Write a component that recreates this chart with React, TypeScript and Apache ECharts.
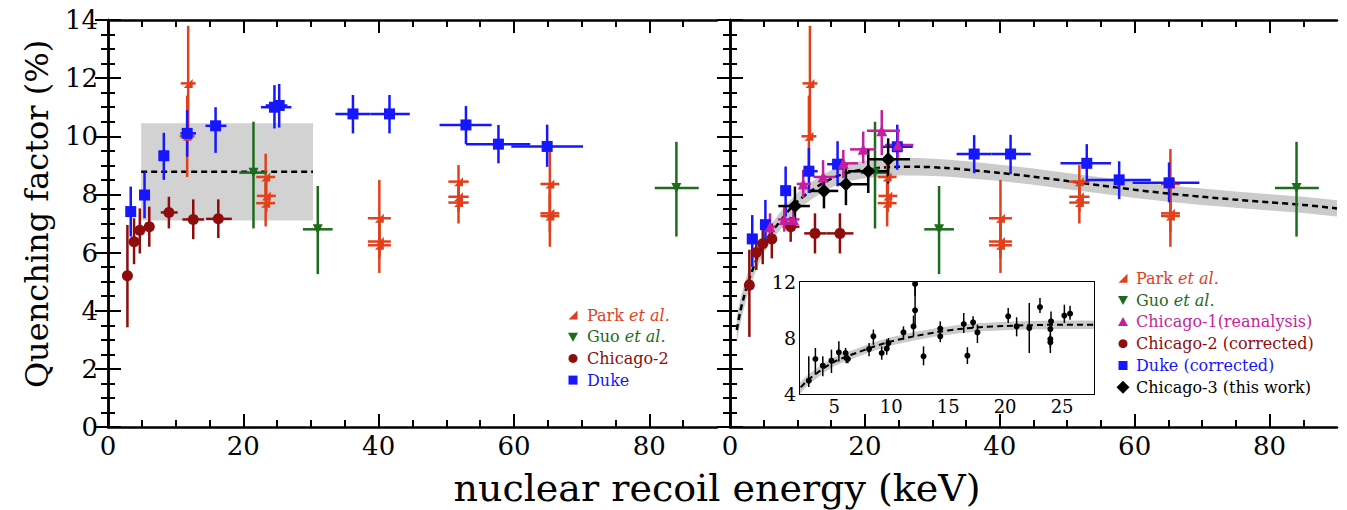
import React, { useEffect, useRef } from "react";
import * as echarts from "echarts";

// ---------- data: [x, y, xLo, xHi, yLo, yHi] ----------
const parkData = [
  [11.85, 11.82, 10.75, 12.95, 9.9, 13.8],
  [11.7, 10.0, 10.6, 12.8, 8.6, 11.4],
  [23.3, 8.6, 21.9, 24.7, 7.9, 9.4],
  [23.4, 7.95, 22.0, 24.8, 7.4, 8.5],
  [23.3, 7.7, 21.9, 24.7, 6.9, 8.4],
  [40.1, 7.18, 38.4, 41.8, 5.9, 8.5],
  [40.1, 6.38, 38.4, 41.8, 5.8, 7.0],
  [40.1, 6.25, 38.4, 41.8, 5.3, 7.2],
  [51.8, 8.44, 50.3, 53.3, 7.87, 9.01],
  [51.8, 7.92, 50.3, 53.3, 7.4, 8.4],
  [51.8, 7.72, 50.3, 53.3, 7.0, 8.4],
  [65.3, 8.36, 63.9, 66.7, 7.16, 9.56],
  [65.3, 7.35, 63.9, 66.7, 6.7, 8.0],
  [65.3, 7.26, 63.9, 66.7, 6.2, 8.3],
];
const guoData = [
  [21.5, 8.75, 19.4, 23.5, 6.83, 10.5],
  [31.0, 6.8, 28.8, 33.2, 5.26, 8.29],
  [84.0, 8.22, 80.8, 87.3, 6.55, 9.81],
];
const chicago2Data = [
  [2.87, 5.2, 2.5, 3.2, 3.43, 6.95],
  [3.85, 6.37, 3.5, 4.2, 5.6, 7.18],
  [4.7, 6.77, 4.3, 5.1, 5.97, 7.52],
  [6.1, 6.89, 5.7, 6.5, 6.2, 7.58],
  [9.0, 7.38, 7.8, 10.3, 6.83, 7.92],
  [12.6, 7.14, 11.0, 14.2, 6.46, 7.83],
  [16.3, 7.16, 14.5, 18.3, 6.5, 7.83],
];
const dukeData = [
  [3.36, 7.41, 3.0, 3.7, 6.55, 8.27],
  [5.4, 7.98, 5.0, 5.8, 7.18, 8.78],
  [8.25, 9.33, 7.9, 8.6, 8.5, 10.12],
  [11.7, 10.1, 10.7, 13.0, 9.3, 10.9],
  [15.9, 10.36, 14.4, 17.5, 9.43, 11.0],
  [24.6, 11.0, 22.6, 27.1, 10.27, 11.76],
  [25.3, 11.06, 23.3, 26.5, 10.3, 11.8],
  [36.2, 10.77, 33.6, 38.8, 10.1, 11.42],
  [41.6, 10.77, 38.8, 44.6, 10.1, 11.42],
  [52.9, 10.39, 49.0, 56.7, 9.73, 11.04],
  [57.7, 9.73, 52.9, 62.4, 9.07, 10.39],
  [64.9, 9.65, 59.6, 70.2, 8.95, 10.4],
];
const chicago1Data = [
  [5.93, 6.89, 5.2, 6.7, 6.45, 7.35],
  [8.05, 7.14, 7.1, 9.0, 6.72, 7.58],
  [9.4, 7.14, 8.5, 10.3, 6.75, 7.55],
  [10.86, 8.36, 9.9, 12.0, 7.88, 8.84],
  [13.8, 8.6, 12.4, 15.6, 8.21, 9.18],
  [16.8, 9.07, 15.3, 19.0, 8.56, 9.53],
  [19.75, 9.55, 17.8, 21.6, 9.07, 10.16],
  [22.5, 10.19, 20.3, 25.2, 9.35, 10.9],
  [24.9, 9.7, 23.0, 27.2, 9.2, 10.25],
];
const chicago2CorrData = [
  [2.87, 4.88, 2.5, 3.2, 3.1, 6.1],
  [3.9, 6.0, 3.5, 4.3, 5.4, 6.6],
  [4.85, 6.3, 4.5, 5.2, 5.6, 6.9],
  [6.2, 6.47, 5.8, 6.6, 5.8, 7.0],
  [9.0, 6.89, 7.8, 10.3, 6.37, 7.23],
  [12.6, 6.66, 11.0, 14.3, 5.97, 7.35],
  [16.3, 6.66, 14.3, 18.3, 5.97, 7.35],
];
const dukeCorrData = [
  [3.3, 6.47, 2.95, 3.65, 5.51, 7.29],
  [5.25, 6.96, 4.9, 5.6, 6.32, 7.81],
  [8.25, 8.13, 7.9, 8.6, 7.24, 8.96],
  [11.7, 8.8, 10.7, 13.0, 8.05, 9.6],
  [15.95, 9.04, 14.4, 17.5, 8.28, 9.83],
  [24.8, 9.64, 22.6, 27.1, 8.85, 10.4],
  [36.2, 9.39, 33.6, 38.8, 8.73, 10.04],
  [41.6, 9.39, 38.8, 44.6, 8.7, 10.05],
  [52.9, 9.07, 49.0, 56.5, 8.45, 9.73],
  [57.7, 8.5, 52.9, 62.4, 7.84, 9.14],
  [65.1, 8.4, 59.7, 69.6, 7.73, 9.1],
];
const chicago3Data = [
  [9.63, 7.6, 7.16, 11.85, 7.06, 8.27],
  [13.93, 8.12, 11.85, 16.05, 7.52, 8.67],
  [17.19, 8.35, 16.05, 20.5, 7.63, 8.9],
  [20.5, 8.8, 17.5, 23.45, 8.05, 9.55],
  [23.45, 9.21, 20.5, 26.7, 8.38, 9.93],
];
// inset points: [x, y, yLo, yHi]
const insetData = [
  [2.77, 4.95, 4.5, 6.69],
  [3.35, 6.5, 5.38, 7.29],
  [4.0, 6.02, 5.26, 6.69],
  [4.76, 6.38, 5.5, 7.17],
  [5.41, 6.98, 6.33, 7.76],
  [6.0, 6.93, 6.45, 7.29],
  [6.06, 6.57, 6.2, 6.9],
  [6.2, 6.5, 6.2, 6.8],
  [8.06, 7.21, 6.69, 7.64],
  [8.44, 8.12, 7.52, 8.6],
  [9.17, 6.93, 6.45, 7.4],
  [9.61, 7.24, 6.8, 7.9],
  [9.76, 7.64, 7.3, 8.0],
  [11.08, 8.4, 7.88, 8.83],
  [11.96, 8.83, 8.1, 9.6],
  [12.1, 9.98, 8.71, 11.93],
  [12.1, 11.86, 11.0, 12.5],
  [12.84, 6.69, 6.05, 7.4],
  [14.31, 8.67, 8.2, 9.19],
  [14.31, 8.12, 7.7, 8.5],
  [16.37, 9.0, 8.36, 9.79],
  [16.69, 6.74, 6.14, 7.34],
  [17.19, 9.12, 8.71, 9.55],
  [17.57, 8.4, 7.64, 8.95],
  [20.27, 9.55, 9.07, 10.14],
  [21.01, 8.83, 8.12, 9.48],
  [22.12, 8.71, 6.93, 10.5],
  [23.06, 10.21, 9.79, 10.86],
  [24.03, 9.19, 8.6, 9.9],
  [23.97, 8.64, 6.93, 9.2],
  [23.97, 7.93, 7.6, 8.3],
  [23.97, 7.69, 7.3, 8.0],
  [25.2, 9.6, 9.07, 10.38],
  [25.7, 9.74, 9.3, 10.3],
];
// fit curve with uncertainty band
const fitX = [1, 1.5, 2, 2.5, 3, 3.5, 4, 5, 6, 7, 8, 9, 10, 12, 14, 16, 18, 20, 22, 25, 28, 32, 36, 40, 45, 50, 55, 60, 65, 70, 75, 80, 85, 90];
const fitY = [3.34, 3.95, 4.42, 4.85, 5.2, 5.5, 5.8, 6.3, 6.65, 6.95, 7.25, 7.52, 7.76, 8.12, 8.42, 8.64, 8.78, 8.86, 8.91, 8.95, 8.95, 8.91, 8.83, 8.74, 8.61, 8.46, 8.31, 8.16, 8.03, 7.92, 7.82, 7.73, 7.64, 7.52];
const fitHalf = [0.45, 0.42, 0.4, 0.38, 0.36, 0.35, 0.34, 0.32, 0.31, 0.3, 0.3, 0.3, 0.3, 0.3, 0.3, 0.3, 0.3, 0.3, 0.3, 0.3, 0.3, 0.29, 0.29, 0.28, 0.28, 0.28, 0.28, 0.28, 0.28, 0.28, 0.28, 0.28, 0.28, 0.28];
// left-panel average band
const leftBandX = [4.9, 30.3];
const leftBandY = [7.1, 10.45];
const leftBandMean = [8.78];
// ticks
const mainXLabels = [0, 20, 40, 60, 80];
const mainXMinor = [5, 10, 15, 25, 30, 35, 45, 50, 55, 65, 70, 75, 85];
const insetXLabels = [5, 10, 15, 20, 25];
const insetXMinor = [3, 4, 6, 7, 8, 9, 11, 12, 13, 14, 16, 17, 18, 19, 21, 22, 23, 24, 26, 27];

const C = {
  park: "#e2401c",
  guo: "#1d6b1d",
  chi1: "#c41f9e",
  chi2: "#8e0c0c",
  duke: "#1616ff",
  chi3: "#000000",
};
const FONT = "DejaVu Serif";
const PARK_SYMBOL = "path://M10,0 L10,10 L0,10 Z";

function measure(text: string, size: number, italic = false) {
  const cv = document.createElement("canvas");
  const ctx = cv.getContext("2d");
  if (!ctx) return text.length * size * 0.6;
  ctx.font = `${italic ? "italic " : ""}${size}px "${FONT}"`;
  return ctx.measureText(text).width;
}

function errSeries(data: number[][], color: string, xi: number, yi: number, lw: number, z: number) {
  return {
    type: "custom",
    xAxisIndex: xi,
    yAxisIndex: yi,
    data,
    clip: true,
    silent: true,
    z,
    encode: { x: 0, y: 1 },
    renderItem: (_p: any, api: any) => {
      const x = api.value(0);
      const y = api.value(1);
      const p = api.coord([x, y]);
      const xl = api.coord([api.value(2), y]);
      const xh = api.coord([api.value(3), y]);
      const yl = api.coord([x, api.value(4)]);
      const yh = api.coord([x, api.value(5)]);
      return {
        type: "group",
        children: [
          { type: "line", shape: { x1: xl[0], y1: p[1], x2: xh[0], y2: p[1] }, style: { stroke: color, lineWidth: lw } },
          { type: "line", shape: { x1: p[0], y1: yl[1], x2: p[0], y2: yh[1] }, style: { stroke: color, lineWidth: lw } },
        ],
      };
    },
  };
}

function ptSeries(name: string, data: number[][], color: string, xi: number, yi: number, symbol: string, size: number, z: number, rotate = 0) {
  return {
    type: "scatter",
    name,
    xAxisIndex: xi,
    yAxisIndex: yi,
    data: data.map((d) => [d[0], d[1]]),
    symbol,
    symbolSize: size,
    symbolRotate: rotate,
    itemStyle: { color, opacity: 1 },
    silent: true,
    z,
  };
}

function bandSeries(xi: number, yi: number) {
  return {
    type: "custom",
    xAxisIndex: xi,
    yAxisIndex: yi,
    data: [[fitX[0], fitY[0]]],
    clip: true,
    silent: true,
    z: 1,
    renderItem: (_p: any, api: any) => {
      const upper = fitX.map((x, i) => api.coord([x, fitY[i] + fitHalf[i]]));
      const lower = fitX.map((x, i) => api.coord([x, fitY[i] - fitHalf[i]])).reverse();
      return { type: "polygon", shape: { points: upper.concat(lower) }, style: { fill: "#cbcbcb" } };
    },
  };
}

function fitLine(xi: number, yi: number, w: number) {
  return {
    type: "line",
    xAxisIndex: xi,
    yAxisIndex: yi,
    data: fitX.map((x, i) => [x, fitY[i]]),
    symbol: "none",
    smooth: 0.3,
    clip: true,
    silent: true,
    z: 2,
    lineStyle: { color: "#000", width: w, type: [6, 4] },
  };
}

const axisLineStyle = { show: true, lineStyle: { color: "#000", width: 2.5 } };

function mainX(grid: number, position: string, labels: boolean) {
  return [
    {
      type: "value", gridIndex: grid, position, min: 0, max: 90,
      axisLine: axisLineStyle,
      splitLine: { show: false },
      axisTick: { show: true, inside: true, length: 7, customValues: mainXMinor, lineStyle: { color: "#000", width: 2 } },
      axisLabel: { show: labels, customValues: mainXLabels, fontSize: 26, fontFamily: FONT, color: "#000", margin: 6 },
    },
    {
      type: "value", gridIndex: grid, position, min: 0, max: 90,
      axisLine: { show: false },
      splitLine: { show: false },
      axisTick: { show: true, inside: true, length: 13, customValues: mainXLabels, lineStyle: { color: "#000", width: 2 } },
      axisLabel: { show: false },
    },
  ];
}

function mainY(grid: number, position: string, labels: boolean) {
  return {
    type: "value", gridIndex: grid, position, min: 0, max: 14, interval: 2,
    axisLine: axisLineStyle,
    splitLine: { show: false },
    axisTick: { show: true, inside: true, length: 13, lineStyle: { color: "#000", width: 2 } },
    minorTick: { show: true, splitNumber: 4, length: 7, lineStyle: { color: "#000", width: 2 } },
    axisLabel: { show: labels, fontSize: 26, fontFamily: FONT, color: "#000", margin: 10 },
  };
}

function insetX(position: string, labels: boolean) {
  return [
    {
      type: "value", gridIndex: 2, position, min: 2, max: 27.8,
      axisLine: { show: true, lineStyle: { color: "#000", width: 2 } },
      splitLine: { show: false },
      axisTick: { show: true, inside: true, length: 6, customValues: insetXMinor, lineStyle: { color: "#000", width: 1.5 } },
      axisLabel: { show: labels, customValues: insetXLabels, fontSize: 18, fontFamily: FONT, color: "#000", margin: 3 },
    },
    {
      type: "value", gridIndex: 2, position, min: 2, max: 27.8,
      axisLine: { show: false },
      splitLine: { show: false },
      axisTick: { show: true, inside: true, length: 10, customValues: insetXLabels, lineStyle: { color: "#000", width: 1.5 } },
      axisLabel: { show: false },
    },
  ];
}

function insetY(position: string, labels: boolean) {
  return {
    type: "value", gridIndex: 2, position, min: 4, max: 12, interval: 4,
    axisLine: { show: true, lineStyle: { color: "#000", width: 2 } },
    splitLine: { show: false },
    axisTick: { show: true, inside: true, length: 11, lineStyle: { color: "#000", width: 1.5 } },
    minorTick: { show: true, splitNumber: 4, length: 6, lineStyle: { color: "#000", width: 1.5 } },
    axisLabel: { show: labels, fontSize: 19, fontFamily: FONT, color: "#000", margin: 4 },
  };
}

function legendItems(x0: number, tx: number, y0: number, gap: number, items: { shape: string; color: string; main: string; ital?: string }[]) {
  const els: any[] = [];
  items.forEach((it, i) => {
    const y = y0 + i * gap;
    const c = it.color;
    if (it.shape === "park") {
      els.push({ type: "polygon", shape: { points: [[x0 + 4.5, y - 4.5], [x0 + 4.5, y + 4.5], [x0 - 4.5, y + 4.5]] }, style: { fill: c } });
    } else if (it.shape === "down") {
      els.push({ type: "polygon", shape: { points: [[x0 - 5, y - 4], [x0 + 5, y - 4], [x0, y + 5]] }, style: { fill: c } });
    } else if (it.shape === "up") {
      els.push({ type: "polygon", shape: { points: [[x0 - 5, y + 4], [x0 + 5, y + 4], [x0, y - 5]] }, style: { fill: c } });
    } else if (it.shape === "circle") {
      els.push({ type: "circle", shape: { cx: x0, cy: y, r: 4.5 }, style: { fill: c } });
    } else if (it.shape === "rect") {
      els.push({ type: "rect", shape: { x: x0 - 4.5, y: y - 4.5, width: 9, height: 9 }, style: { fill: c } });
    } else if (it.shape === "diamond") {
      els.push({ type: "polygon", shape: { points: [[x0, y - 6.5], [x0 + 6.5, y], [x0, y + 6.5], [x0 - 6.5, y]] }, style: { fill: c } });
    }
    els.push({
      type: "text", x: tx, y,
      style: { text: it.main, align: "left", verticalAlign: "middle", fill: c, font: `16px "${FONT}"` },
    });
    if (it.ital) {
      els.push({
        type: "text", x: tx + measure(it.main, 16), y,
        style: { text: it.ital, align: "left", verticalAlign: "middle", fill: c, font: `italic 16px "${FONT}"` },
      });
    }
  });
  return els;
}

export default function App() {
  const ref = useRef<HTMLDivElement>(null);
  useEffect(() => {
    if (!ref.current) return;
    const chart = echarts.init(ref.current, null, { renderer: "svg" });
    const option: any = {
      animation: false,
      backgroundColor: "#fff",
      textStyle: { fontFamily: FONT },
      grid: [
        { left: 108, top: 20, width: 609, height: 407 },
        { left: 730, top: 20, width: 607, height: 407 },
        { left: 800, top: 282, width: 294, height: 112, show: true, backgroundColor: "#fff", borderWidth: 0, z: 3 },
      ],
      xAxis: [
        ...mainX(0, "bottom", true),
        ...mainX(0, "top", false),
        ...mainX(1, "bottom", true),
        ...mainX(1, "top", false),
        ...insetX("bottom", true),
        ...insetX("top", false),
      ],
      yAxis: [
        mainY(0, "left", true),
        mainY(0, "right", false),
        mainY(1, "left", false),
        mainY(1, "right", false),
        insetY("left", true),
        insetY("right", false),
      ],
      series: [
        // left panel
        {
          type: "custom", xAxisIndex: 0, yAxisIndex: 0, silent: true, z: 1, clip: true,
          data: [[leftBandX[0], leftBandY[0], leftBandX[1], leftBandY[1]]],
          renderItem: (_p: any, api: any) => {
            const a = api.coord([api.value(0), api.value(3)]);
            const b = api.coord([api.value(2), api.value(1)]);
            return { type: "rect", shape: { x: a[0], y: a[1], width: b[0] - a[0], height: b[1] - a[1] }, style: { fill: "#d2d2d2" } };
          },
        },
        {
          type: "line", xAxisIndex: 0, yAxisIndex: 0, symbol: "none", silent: true, z: 2,
          data: [[leftBandX[0], leftBandMean[0]], [leftBandX[1], leftBandMean[0]]],
          lineStyle: { color: "#000", width: 2.5, type: [6, 4] },
        },
        errSeries(parkData, C.park, 0, 0, 2.5, 3),
        errSeries(guoData, C.guo, 0, 0, 2.5, 3),
        errSeries(chicago2Data, C.chi2, 0, 0, 2.5, 3),
        errSeries(dukeData, C.duke, 0, 0, 2.5, 3),
        ptSeries("Park et al.", parkData, C.park, 0, 0, PARK_SYMBOL, 9, 4),
        ptSeries("Guo et al.", guoData, C.guo, 0, 0, "triangle", 10, 4, 180),
        ptSeries("Chicago-2", chicago2Data, C.chi2, 0, 0, "circle", 11, 4),
        ptSeries("Duke", dukeData, C.duke, 0, 0, "rect", 11, 4),
        // right panel
        bandSeries(4, 2),
        fitLine(4, 2, 2.5),
        errSeries(parkData, C.park, 4, 2, 2.5, 3),
        errSeries(guoData, C.guo, 4, 2, 2.5, 3),
        errSeries(chicago2CorrData, C.chi2, 4, 2, 2.5, 3),
        errSeries(dukeCorrData, C.duke, 4, 2, 2.5, 3),
        errSeries(chicago1Data, C.chi1, 4, 2, 2.5, 3),
        errSeries(chicago3Data, C.chi3, 4, 2, 2.5, 3),
        ptSeries("Park et al.", parkData, C.park, 4, 2, PARK_SYMBOL, 9, 4),
        ptSeries("Guo et al.", guoData, C.guo, 4, 2, "triangle", 10, 4, 180),
        ptSeries("Chicago-2 (corrected)", chicago2CorrData, C.chi2, 4, 2, "circle", 11, 4),
        ptSeries("Duke (corrected)", dukeCorrData, C.duke, 4, 2, "rect", 11, 4),
        ptSeries("Chicago-1(reanalysis)", chicago1Data, C.chi1, 4, 2, "triangle", 11, 4),
        ptSeries("Chicago-3 (this work)", chicago3Data, C.chi3, 4, 2, "diamond", 14, 5),
        // inset
        { ...bandSeries(8, 4), z: 6 },
        { ...fitLine(8, 4, 2), z: 7 },
        {
          ...errSeries(insetData.map((d) => [d[0], d[1], d[0], d[0], d[2], d[3]]), "#000", 8, 4, 1.5, 8),
        },
        { ...ptSeries("inset", insetData, "#000", 8, 4, "circle", 6, 9) },
      ],
      graphic: [
        {
          type: "text", x: 37, y: 214, rotation: Math.PI / 2,
          style: { text: "Quenching factor (%)", align: "center", verticalAlign: "middle", font: `32px "${FONT}"`, fill: "#000" },
        },
        {
          type: "text", x: 717, y: 488,
          style: { text: "nuclear recoil energy (keV)", align: "center", verticalAlign: "middle", font: `38px "${FONT}"`, fill: "#000" },
        },
        ...legendItems(573, 587, 315, 21.7, [
          { shape: "park", color: C.park, main: "Park ", ital: "et al." },
          { shape: "down", color: C.guo, main: "Guo ", ital: "et al." },
          { shape: "circle", color: C.chi2, main: "Chicago-2" },
          { shape: "rect", color: C.duke, main: "Duke" },
        ]),
        ...legendItems(1123, 1136, 278.3, 21.8, [
          { shape: "park", color: C.park, main: "Park ", ital: "et al." },
          { shape: "down", color: C.guo, main: "Guo ", ital: "et al." },
          { shape: "up", color: C.chi1, main: "Chicago-1(reanalysis)" },
          { shape: "circle", color: C.chi2, main: "Chicago-2 (corrected)" },
          { shape: "rect", color: C.duke, main: "Duke (corrected)" },
          { shape: "diamond", color: C.chi3, main: "Chicago-3 (this work)" },
        ]),
      ],
    };
    chart.setOption(option);
    return () => chart.dispose();
  }, []);
  return <div ref={ref} style={{ position: "fixed", left: 0, top: 0, width: 1347, height: 510 }} />;
}
